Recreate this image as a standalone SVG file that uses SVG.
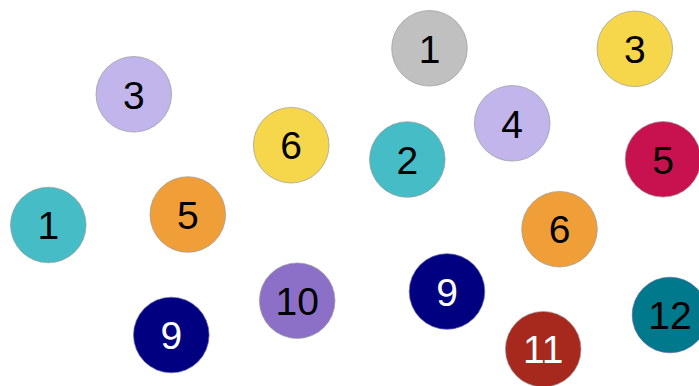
<svg xmlns="http://www.w3.org/2000/svg" width="699" height="386" viewBox="0 0 699 386">
<style>
circle{stroke:#9a9a9a;stroke-width:1;stroke-opacity:0.7}
text{font-family:"Liberation Sans",Arial,sans-serif;font-size:39px;text-anchor:middle}
.w{fill:#fff}
.k{fill:#000}
</style>
<rect width="699" height="386" fill="#fff"/>
<g id="connectors"></g>
<g id="n1"><circle cx="429.5" cy="48.3" r="37.8" fill="#c0c0c0"/><text class="k" x="429.5" y="62.5">1</text></g>
<g id="n2"><circle cx="634.8" cy="48.8" r="37.8" fill="#f6d74b"/><text class="k" x="634.8" y="63">3</text></g>
<g id="n3"><circle cx="133.8" cy="94.3" r="37.8" fill="#c1b5ec"/><text class="k" x="133.8" y="108.5">3</text></g>
<g id="n4"><circle cx="512.2" cy="123.3" r="37.8" fill="#c1b5ec"/><text class="k" x="512.2" y="137.5">4</text></g>
<g id="n5"><circle cx="291.2" cy="145.2" r="37.8" fill="#f6d74b"/><text class="k" x="291.2" y="159.4">6</text></g>
<g id="n6"><circle cx="407.3" cy="159.5" r="37.8" fill="#45bcc6"/><text class="k" x="407.3" y="173.7">2</text></g>
<g id="n7"><circle cx="663" cy="159.3" r="37.8" fill="#c8124f"/><text class="k" x="663" y="173.5">5</text></g>
<g id="n8"><circle cx="48.3" cy="225" r="37.8" fill="#45bcc6"/><text class="k" x="48.3" y="239.2">1</text></g>
<g id="n9"><circle cx="187.8" cy="214.5" r="37.8" fill="#f09e38"/><text class="k" x="187.8" y="228.7">5</text></g>
<g id="n10"><circle cx="559.5" cy="229.2" r="37.8" fill="#f09e38"/><text class="k" x="559.5" y="243.4">6</text></g>
<g id="n11"><circle cx="297.2" cy="300.7" r="37.8" fill="#8c6fc6"/><text class="k" x="297.2" y="314.9">10</text></g>
<g id="n12"><circle cx="447" cy="291.5" r="37.8" fill="#000080" style="stroke:#6a6ab0"/><text class="w" x="447" y="305.7">9</text></g>
<g id="n13"><circle cx="171.3" cy="335" r="37.8" fill="#000080" style="stroke:#6a6ab0"/><text class="w" x="171.3" y="349.2">9</text></g>
<g id="n14"><circle cx="670" cy="315" r="37.8" fill="#00798c" style="stroke:#5a6aa8"/><text class="k" x="670" y="329.2">12</text></g>
<g id="n15"><circle cx="543.2" cy="349.2" r="37.8" fill="#a7281d"/><text class="w" x="543.2" y="363.4">11</text></g>
</svg>
